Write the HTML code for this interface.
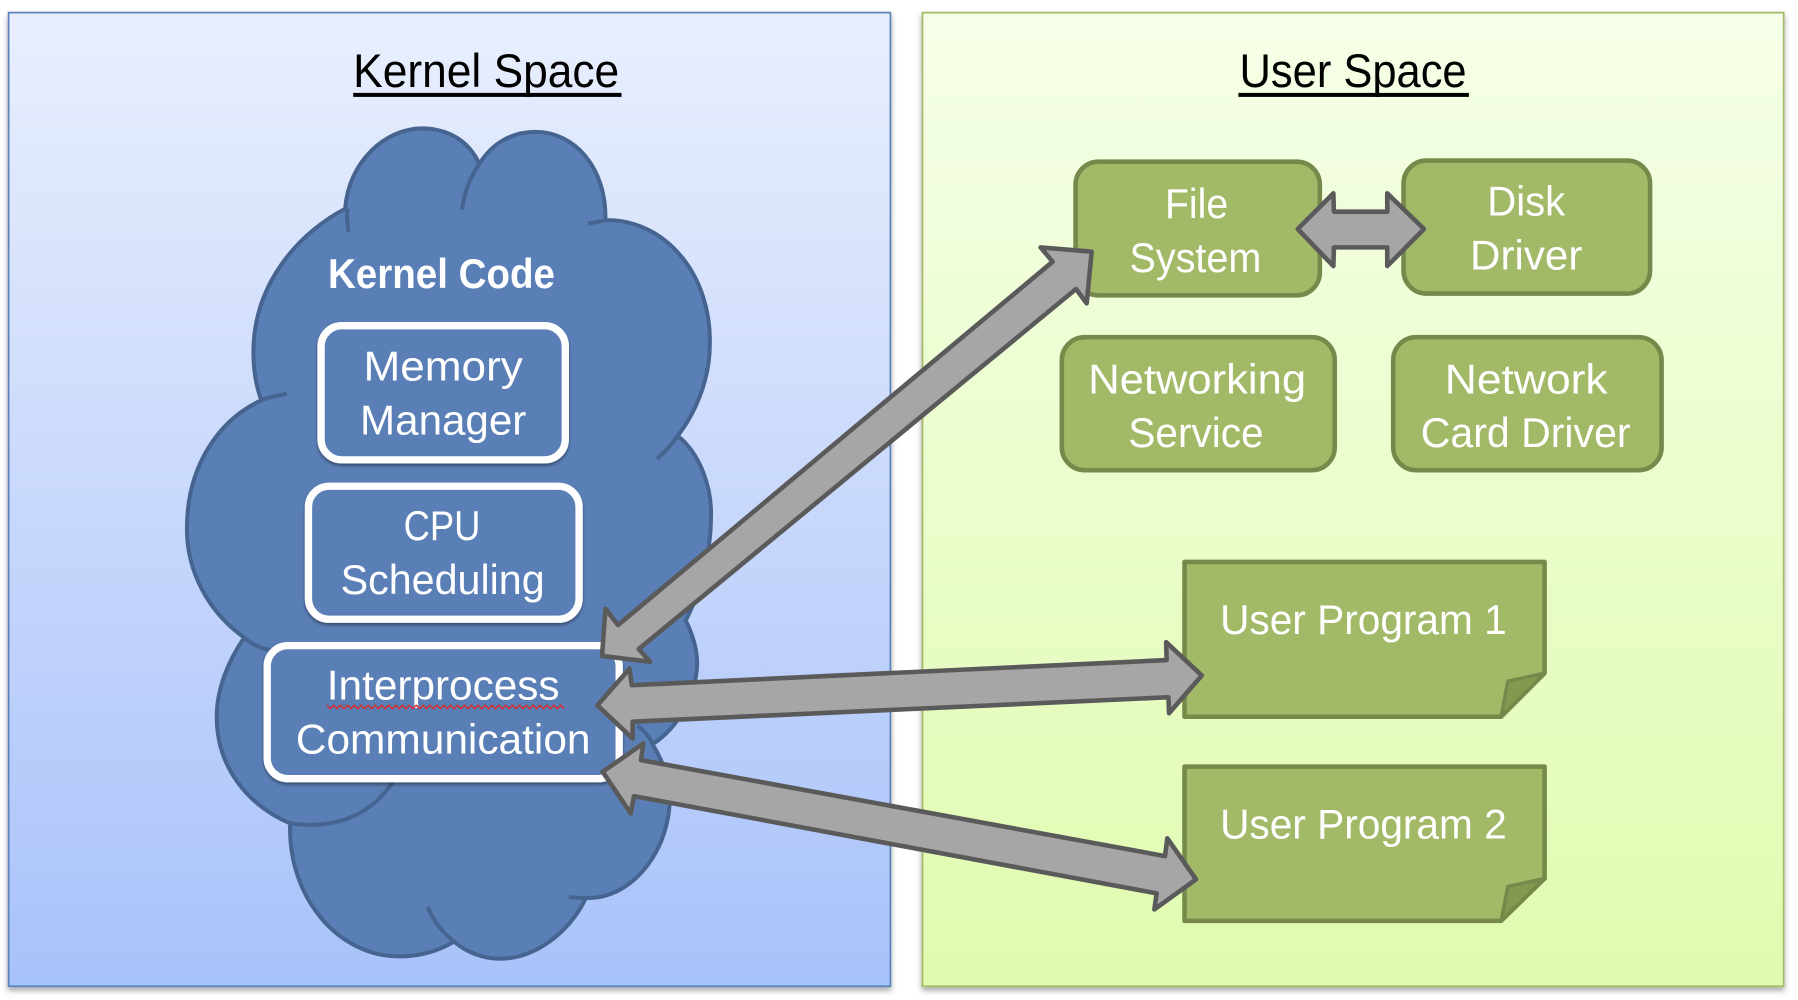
<!DOCTYPE html>
<html><head><meta charset="utf-8"><style>
html,body{margin:0;padding:0;background:#fff;width:1798px;height:1000px;overflow:hidden}
svg{display:block}
text{font-family:"Liberation Sans",sans-serif}
.w{fill:#fff;font-size:36px}
.t{fill:#000;font-size:41px}
.g{fill:#a6a6a6;stroke:#5a5a5a;stroke-width:4;stroke-linejoin:round}
.c{fill:none;stroke:#466490;stroke-width:3.5}
.b{fill:#5a7fb6;stroke:#fff;stroke-width:6.4;filter:url(#s2)}
.n{fill:#a2ba67;stroke:#76894a;stroke-width:4}
</style></head><body>
<svg width="1798" height="1000" viewBox="0 0 1568 872" preserveAspectRatio="none" xmlns="http://www.w3.org/2000/svg">
<defs>
<linearGradient id="lb" x1="0" y1="0" x2="0" y2="1"><stop offset="0" stop-color="#e9effd"/><stop offset="1" stop-color="#a8c2fa"/></linearGradient>
<linearGradient id="lg" x1="0" y1="0" x2="0" y2="1"><stop offset="0" stop-color="#f5ffe8"/><stop offset="1" stop-color="#e0fbaf"/></linearGradient>
<filter id="s1" x="-5%" y="-5%" width="110%" height="110%"><feDropShadow dx="0" dy="3" stdDeviation="2.5" flood-color="#000" flood-opacity=".35"/></filter>
<filter id="s2" x="-5%" y="-5%" width="110%" height="115%"><feDropShadow dx="0" dy="2" stdDeviation="1.5" flood-color="#000" flood-opacity=".4"/></filter>
</defs>
<rect width="1568" height="872" fill="#fff"/>
<rect x="7.5" y="11" width="769" height="849" fill="url(#lb)" stroke="#5b82ba" stroke-width="1.5" filter="url(#s1)"/>
<rect x="804.5" y="11" width="751" height="849" fill="url(#lg)" stroke="#a3bb66" stroke-width="1.5" filter="url(#s1)"/>

<g transform="translate(1,1)">
<path d="M300 181C303 140 335 111 367 111C390 111 408 122 417 142C428 124 445 114 466 114C500 114 528 145 527 191C580 190 620 240 618 300C618 330 605 360 590 379C610 395 620 425 619 450C619 480 610 515 597 540C603 552 607 565 607 578C606 606 590 634 568 648C578 664 584 682 583 700C580 748 545 784 510 782C495 813 465 835 435 835C420 835 405 829 395 820C380 829 365 833 347 833C295 833 250 783 252 717C215 701 188 668 188 624C188 600 198 575 212 555C180 532 162 497 162 460C162 405 190 365 227 348C222 335 220 320 220 306C220 250 255 205 300 181Z" fill="#5a7fb6" stroke="#466490" stroke-width="3.5"/>
<path class="c" d="M302 181C301 188 302 195 303 201"/>
<path class="c" d="M402 182C404 165 410 152 417 142"/>
<path class="c" d="M512 194C517 193 522 192 527 191"/>
<path class="c" d="M227 348C233 345 240 345 249 342"/>
<path class="c" d="M590 379C586 385 580 392 572 399"/>
<path class="c" d="M212 555C220 562 228 565 236 566"/>
<path class="c" d="M252 717C295 723 325 707 342 680"/>
<path class="c" d="M555 632C562 637 566 643 568 648"/>
<path class="c" d="M495 781C500 782 505 782 510 782"/>
<path class="c" d="M372 790C378 804 385 812 395 820"/>
</g>

<rect class="b" x="280" y="284" width="213" height="117" rx="18"/>
<rect class="b" x="269" y="424" width="236" height="116" rx="18"/>
<rect class="b" x="233" y="563" width="307" height="116" rx="18"/>

<text class="t" x="308" y="76" textLength="232" lengthAdjust="spacingAndGlyphs">Kernel Space</text>
<rect x="308" y="81" width="234" height="3.5" fill="#000"/>
<text class="t" x="1081" y="76" textLength="198" lengthAdjust="spacingAndGlyphs">User Space</text>
<rect x="1080" y="81" width="201" height="3.5" fill="#000"/>

<text class="w" x="286" y="251" textLength="198" lengthAdjust="spacingAndGlyphs" style="font-weight:bold">Kernel Code</text>
<text class="w" x="317" y="332" textLength="139" lengthAdjust="spacingAndGlyphs">Memory</text>
<text class="w" x="314" y="379" textLength="145" lengthAdjust="spacingAndGlyphs">Manager</text>
<text class="w" x="352" y="471" textLength="67" lengthAdjust="spacingAndGlyphs">CPU</text>
<text class="w" x="297" y="518" textLength="178" lengthAdjust="spacingAndGlyphs">Scheduling</text>
<text class="w" x="285" y="610" textLength="203" lengthAdjust="spacingAndGlyphs">Interprocess</text>
<path d="M285 615l3 3 3-3 3 3 3-3 3 3 3-3 3 3 3-3 3 3 3-3 3 3 3-3 3 3 3-3 3 3 3-3 3 3 3-3 3 3 3-3 3 3 3-3 3 3 3-3 3 3 3-3 3 3 3-3 3 3 3-3 3 3 3-3 3 3 3-3 3 3 3-3 3 3 3-3 3 3 3-3 3 3 3-3 3 3 3-3 3 3 3-3 3 3 3-3 3 3 3-3 3 3 3-3 3 3 3-3 3 3 3-3 3 3 3-3 3 3 3-3 3 3 3-3 3 3 3-3 3 3 3-3 3 3 3-3 3 3" fill="none" stroke="#e02a2a" stroke-width="1.2"/>
<text class="w" x="258" y="657" textLength="257" lengthAdjust="spacingAndGlyphs">Communication</text>

<rect class="n" x="938" y="141" width="213" height="116.5" rx="20"/>
<rect class="n" x="1224" y="140" width="215" height="116" rx="20"/>
<rect class="n" x="926" y="294" width="238" height="116" rx="20"/>
<rect class="n" x="1215" y="294" width="234" height="116" rx="20"/>
<text class="w" x="1016" y="190" textLength="55" lengthAdjust="spacingAndGlyphs">File</text>
<text class="w" x="985" y="237" textLength="115" lengthAdjust="spacingAndGlyphs">System</text>
<text class="w" x="1297" y="188" textLength="68" lengthAdjust="spacingAndGlyphs">Disk</text>
<text class="w" x="1282" y="235" textLength="98" lengthAdjust="spacingAndGlyphs">Driver</text>
<text class="w" x="949" y="343" textLength="190" lengthAdjust="spacingAndGlyphs">Networking</text>
<text class="w" x="984" y="390" textLength="118" lengthAdjust="spacingAndGlyphs">Service</text>
<text class="w" x="1260" y="343" textLength="142" lengthAdjust="spacingAndGlyphs">Network</text>
<text class="w" x="1239" y="390" textLength="183" lengthAdjust="spacingAndGlyphs">Card Driver</text>

<path class="n" stroke-linejoin="round" d="M1033 490H1347V587L1309 625H1033Z"/>
<path d="M1347 587L1315 594L1309 625Z" fill="#82994f" stroke="#76894a" stroke-width="3" stroke-linejoin="round"/>
<path class="n" stroke-linejoin="round" d="M1033 668.5H1347V766L1309 803H1033Z"/>
<path d="M1347 766L1315 773L1309 803Z" fill="#82994f" stroke="#76894a" stroke-width="3" stroke-linejoin="round"/>
<text class="w" x="1064" y="553" textLength="250" lengthAdjust="spacingAndGlyphs">User Program 1</text>
<text class="w" x="1064" y="731" textLength="250" lengthAdjust="spacingAndGlyphs">User Program 2</text>

<polygon class="g" points="952,219.5 907.5,215.7 918,228.2 539,545 528,531 525,572 567,577 557,566 938.4,252 947.7,264.5"/>
<polygon class="g" points="521,615 549,583 551,597.5 1017.4,575.6 1017,560 1048,589 1019.5,622 1019,608 551.7,629.3 551.7,644"/>
<polygon class="g" points="525.6,673 561,648.3 559,662.8 1016,746.5 1018,731 1043,766.8 1006.7,793 1008.7,779 552.9,694.2 550,709.3"/>
<polygon class="g" points="1131.7,199.7 1162.8,168.6 1163.3,184.6 1209.8,184.6 1209.8,168.6 1241.8,199.7 1209.8,232 1209.8,215.7 1163.3,215.7 1162.8,232"/>
</svg>
</body></html>
